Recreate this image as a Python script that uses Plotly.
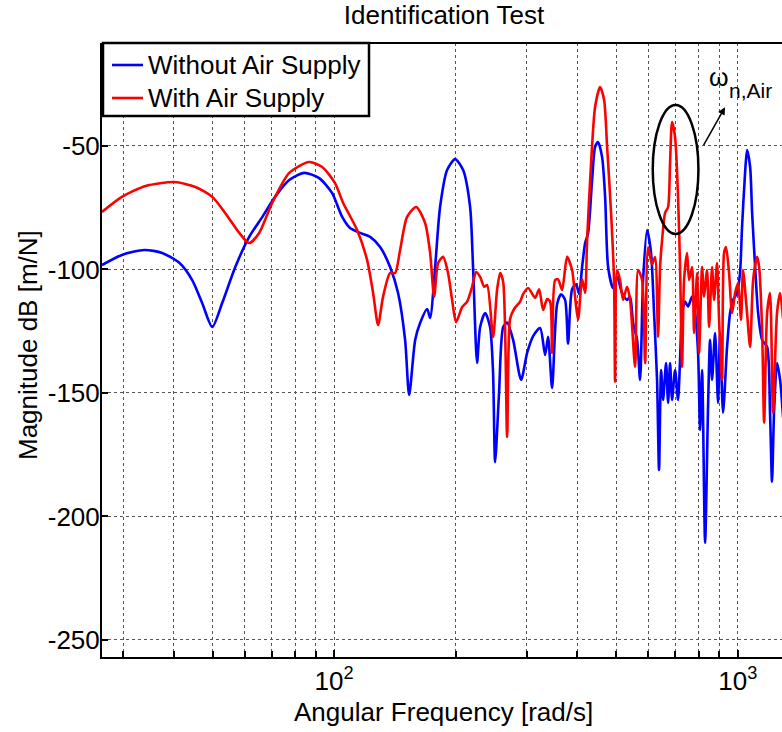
import plotly.graph_objects as go
import math

# Without Air Supply (blue)
freq_without = [26.6, 29.8, 33.9, 37.5, 41.4, 44.5, 47.1, 49.9, 52.8, 56.9, 61.6, 66.4, 71.4, 77.4, 84.3, 91.8, 98.8,
                104.7, 109.5, 116, 122.8, 130, 137.6, 144, 149.9, 153.4, 158.8, 163.3, 170, 172.9, 177.9, 183, 190.5,
                199.4, 208.7, 217.2, 221, 226, 230, 236.7, 243.4, 247.6, 250.5, 256.2, 262.3, 268.3, 277.6, 290.5,
                300.7, 311.2, 323.8, 333.2, 338.9, 346.7, 356.8, 365, 373.4, 379.8, 388.6, 397.6, 404.4, 411.5, 418.6,
                425.8, 435.6, 443.1, 450.7, 461.2, 469.2, 477.3, 491, 502.3, 516.8, 531.7, 541, 550.4, 563.1, 572.8,
                582.7, 596.2, 609.8, 620.3, 631, 638.2, 645.7, 653.1, 664.3, 672, 679.6, 687.4, 699.3, 711.3, 719.5,
                727.8, 740.4, 753.1, 770.6, 783.9, 797.4, 806.5, 815.8, 829.9, 844.2, 853.8, 863.6, 878.6, 893.7,
                903.8, 919.4, 940.7, 957, 973.6, 996, 1013, 1024.7, 1042.4, 1054.3, 1073, 1085.3, 1104.1, 1123.1,
                1149, 1182.3, 1202, 1215.8, 1229.8, 1251, 1273, 1295]
mag_without = [-98.2, -94.1, -92.1, -93.3, -97.4, -104.3, -113.6, -123.3, -113.6, -99, -86.8, -78.7, -70.6, -63.8, -60.9,
               -63, -69, -78.7, -83.2, -85.2, -86.8, -90.9, -99, -109.5, -128.5, -150.8, -128.5, -121.7, -116, -119.6,
               -99, -74.7, -59.7, -55.3, -59.7, -74.7, -100.2, -137.8, -123.3, -117.6, -123.3, -141.9, -178, -150,
               -123.3, -121.5, -128.5, -144.7, -133.8, -127, -123.7, -134.6, -127.3, -148, -114, -110, -112.3, -130,
               -108, -106, -110, -99, -89.3, -85.2, -63.8, -50.4, -48.4, -54.5, -70.6, -99, -107.5, -103, -109.5,
               -112.3, -111, -121.7, -128.5, -144.7, -104.3, -84, -93.3, -117.6, -144.7, -181.2, -140.7, -152.8,
               -137.9, -154, -137.9, -152.8, -140.7, -152.8, -136.6, -117.6, -113, -115, -111, -117.6, -133.8, -165,
               -140.7, -210.7, -155, -128.5, -144.7, -125.7, -154, -125.7, -158, -131.4, -117.6, -112.3, -109.5,
               -101.4, -82.8, -61, -51.6, -58.5, -77.1, -99, -117.6, -128.5, -131.4, -158, -186, -158, -137.9,
               -144.7, -160]

# With Air Supply (red)
freq_with = [26.6, 29.8, 34.1, 40.2, 45.3, 49.9, 53.7, 58.2, 61.6, 65.2, 70.2, 77.4, 86.7, 93.4, 100.5, 105.3, 114,
             120.7, 124.9, 128.5, 132.2, 137.6, 141.6, 145.7, 151.6, 159.7, 168, 172.9, 176.9, 181, 186.2, 191.5, 196,
             200.5, 207.6, 213.6, 219.7, 224.8, 230, 235.3, 239.4, 247.6, 253.3, 257.8, 262.3, 268.3, 272.9, 279.2,
             288.9, 293.9, 302.4, 314.8, 322, 329.4, 337, 342.8, 346.7, 352.7, 358.8, 367.1, 377.7, 388.6, 395.3,
             402.1, 411.5, 418.6, 423.4, 433.1, 443.1, 456, 466.5, 474.6, 485.4, 493.7, 496.6, 502.3, 510.9, 519.7,
             531.7, 541, 556.7, 566.3, 579.4, 589.4, 599.5, 613.3, 623.9, 634.6, 642, 649.4, 660.6, 672, 679.6,
             687.4, 699.3, 711.3, 719.5, 727.8, 736.1, 748.9, 757.4, 770.6, 779.4, 792.9, 801.9, 815.8, 825.1, 839.4,
             849, 863.6, 873.5, 888.6, 898.8, 914.2, 924.7, 935.3, 951.4, 968, 984.8, 1001.7, 1018.8, 1030.5, 1054.3,
             1073, 1091.6, 1116.8, 1129.5, 1149, 1162.2, 1182.3, 1202, 1222.8, 1251, 1273, 1295]
mag_with = [-76.7, -70.6, -66.2, -64.6, -66.6, -70.6, -77.1, -85.2, -89.3, -85.2, -73.1, -60.9, -56.5, -58.5, -65,
            -73.1, -84, -96.2, -109.5, -122.5, -111, -101.4, -101.4, -92.1, -78.7, -74.7, -81.2, -93.3, -111, -97.4,
            -94.9, -101.4, -112.3, -121.3, -115.2, -113, -107, -101, -103, -107, -106.3, -127.3, -108.3, -101.4, -105,
            -167.8, -120, -116, -113, -110, -107.5, -111.5, -108, -116.4, -112, -113, -133.8, -104.3, -104, -108.3,
            -94.9, -100.2, -111, -120.4, -104, -109.5, -88, -56.9, -34.2, -26.1, -31.4, -50.4, -77.1, -104.3, -145.5,
            -100.2, -104.3, -112.3, -107, -112.3, -139.5, -100.2, -104.3, -137.9, -91, -98, -95, -127.3, -99, -88.1,
            -77.1, -74.7, -56.9, -40.3, -46.4, -70.6, -99, -139.5, -104.3, -93.3, -104.3, -99, -125.7, -101.4,
            -133.8, -99, -111, -100.2, -123.3, -99, -112.3, -97.4, -120.4, -144.7, -93.3, -90.9, -101.4, -117.6,
            -109.5, -105.5, -120.4, -100.2, -117.6, -131.4, -104.3, -94.9, -99, -124.5, -162, -117.6, -109.5, -158,
            -117.6, -109.5, -120]

series_names = ["Without Air Supply", "With Air Supply"]
series_colors = ["#0000FF", "#FF0000"]

x_major_vals = [100, 1000]
x_major_text = ["10<sup>2</sup>", "10<sup>3</sup>"]
x_minor_vals = [30, 40, 50, 60, 70, 80, 90, 200, 300, 400, 500, 600, 700, 800, 900]
y_tick_vals = [-250, -200, -150, -100, -50]
y_tick_text = ["-250", "-200", "-150", "-100", "-50"]

FONT = "Liberation Sans, Arial, sans-serif"
W, H = 782, 732
L, R, T, B = 102, 0, 43, 75
PW, PH = W - L - R, H - T - B
GRID = "#555555"


def px_x(p):  # page pixel -> paper x
    return (p - L) / PW


def px_y(p):  # page pixel -> paper y
    return (H - B - p) / PH


fig = go.Figure()
for fx, my, nm, col in [(freq_without, mag_without, series_names[0], series_colors[0]),
                        (freq_with, mag_with, series_names[1], series_colors[1])]:
    fig.add_trace(go.Scatter(x=fx, y=my, mode="lines", name=nm, showlegend=False,
                             line=dict(color=col, width=2.6, shape="spline", smoothing=0.7)))

fig.update_layout(
    width=W, height=H,
    margin=dict(l=L, r=R, t=T, b=B),
    paper_bgcolor="white", plot_bgcolor="white",
    font=dict(family=FONT, size=26, color="black"),
    title=dict(text="Identification Test", x=444 / W, xref="container", xanchor="center",
               y=1 - 15 / H, yref="container", yanchor="middle", font=dict(size=26, color="black")),
    showlegend=False,
)

fig.update_xaxes(type="log", range=[math.log10(26.6), math.log10(1287)],
                 tickmode="array", tickvals=x_major_vals, ticktext=x_major_text, ticks="inside", ticklen=7,
                 tickcolor="black", tickwidth=1.5, showline=True, linecolor="black", linewidth=2, mirror=False,
                 showgrid=True, gridcolor=GRID, griddash="dot", gridwidth=1, zeroline=False,
                 tickfont=dict(size=26),
                 minor=dict(tickmode="array", tickvals=x_minor_vals, ticks="inside", ticklen=6,
                            tickcolor="black", tickwidth=1.5, showgrid=True, gridcolor=GRID,
                            griddash="dot", gridwidth=1))
fig.update_yaxes(range=[-256.9, -8.3], tickvals=y_tick_vals, ticktext=y_tick_text, ticks="inside", ticklen=6,
                 tickcolor="black", tickwidth=1.5, showline=True, linecolor="black", linewidth=2, mirror=False,
                 showgrid=True, gridcolor=GRID, griddash="dot", gridwidth=1, zeroline=False,
                 ticklabelstandoff=-5, tickfont=dict(size=26))

# top frame line
fig.add_shape(type="line", xref="paper", yref="paper", x0=0, x1=1, y0=1, y1=1,
              line=dict(color="black", width=2))

# legend box (drawn manually to match the reference)
fig.add_shape(type="rect", xref="paper", yref="paper", x0=px_x(103), x1=px_x(369), y0=px_y(116), y1=px_y(43),
              line=dict(color="black", width=2.5), fillcolor="white", layer="above")
for i, (nm, col) in enumerate(zip(series_names, series_colors)):
    yy = px_y(65 + 33 * i)
    fig.add_shape(type="line", xref="paper", yref="paper", x0=px_x(112), x1=px_x(143), y0=yy, y1=yy,
                  line=dict(color=col, width=2.6), layer="above")
    fig.add_annotation(x=px_x(146), y=yy, xref="paper", yref="paper", text=nm, showarrow=False,
                       xanchor="left", yanchor="middle", font=dict(size=26, color="black"))

# ellipse around the air resonance
fig.add_shape(type="circle", xref="x", yref="y", x0=615.7, x1=799, y0=-85.6, y1=-33.4,
              line=dict(color="black", width=2.5))

# arrow and label
fig.add_annotation(x=math.log10(930), y=-34.3, ax=math.log10(819), ay=-50.3, xref="x", yref="y",
                   axref="x", ayref="y", text="", showarrow=True, arrowhead=2, arrowsize=1,
                   arrowwidth=1.5, arrowcolor="black")
fig.add_annotation(x=px_x(719), y=px_y(77), xref="paper", yref="paper", text="ω", showarrow=False,
                   xanchor="center", yanchor="middle", font=dict(size=25, color="black"))
fig.add_annotation(x=px_x(727), y=px_y(90), xref="paper", yref="paper", text="n,Air", showarrow=False,
                   xanchor="left", yanchor="middle", font=dict(size=21, color="black"))

# axis titles
fig.add_annotation(x=px_x(443), y=px_y(712), xref="paper", yref="paper", text="Angular Frequency [rad/s]",
                   showarrow=False, xanchor="center", yanchor="middle", font=dict(size=26))
fig.add_annotation(x=px_x(28), y=px_y(345), xref="paper", yref="paper",
                   text="Magnitude dB [m/N]", textangle=-90, showarrow=False, xanchor="center",
                   yanchor="middle", font=dict(size=26))

fig.write_html("out.html", config={"displayModeBar": False},
               post_script="document.body.style.margin='0px';")
